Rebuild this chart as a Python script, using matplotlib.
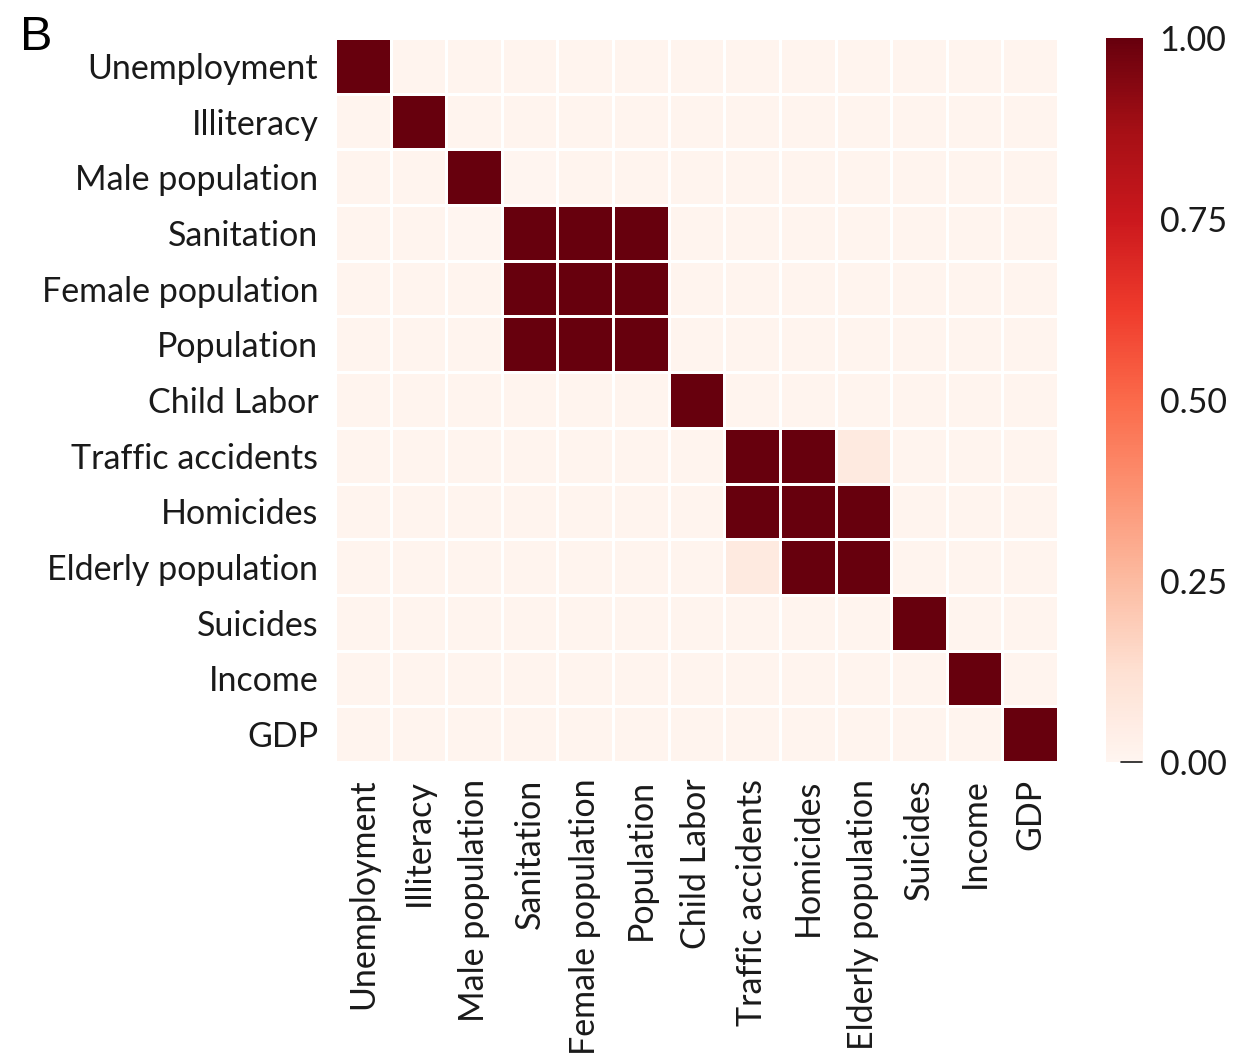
import numpy as np
import matplotlib

matplotlib.use('Agg')
import matplotlib.pyplot as plt
import seaborn as sns

labels = ['Unemployment', 'Illiteracy', 'Male population', 'Sanitation',
          'Female population', 'Population', 'Child Labor', 'Traffic accidents',
          'Homicides', 'Elderly population', 'Suicides', 'Income', 'GDP']

# correlation strengths (symmetric)
base_level = 0.01
strong_pairs = [
    ('Sanitation', 'Female population', 1.0),
    ('Sanitation', 'Population', 1.0),
    ('Female population', 'Population', 1.0),
    ('Traffic accidents', 'Homicides', 1.0),
    ('Homicides', 'Elderly population', 1.0),
    ('Traffic accidents', 'Elderly population', 0.07),
    ('Male population', 'Sanitation', 0.0),
]

n = len(labels)
corr = np.full((n, n), base_level)
np.fill_diagonal(corr, 1.0)
for a, b, v in strong_pairs:
    i, j = labels.index(a), labels.index(b)
    corr[i, j] = corr[j, i] = v

sns.set_style('white')
plt.rcParams['font.family'] = ['Lato', 'DejaVu Sans']

fig = plt.figure(figsize=(12.5, 10.64), dpi=100)
ax = fig.add_axes([335 / 1250, 1 - 762 / 1064, 723 / 1250, 724 / 1064])
cax = fig.add_axes([1106 / 1250, 1 - 762 / 1064, 37 / 1250, 724 / 1064])

sns.heatmap(corr, ax=ax, cbar_ax=cax, cmap='Reds', vmin=0, vmax=1,
            linewidths=0.8, linecolor='white',
            xticklabels=labels, yticklabels=labels)

ax.tick_params(axis='both', length=0, labelsize=24.5, colors='#1a1a1a', pad=12)
plt.setp(ax.get_xticklabels(), rotation=90)
plt.setp(ax.get_yticklabels(), rotation=0, va='center_baseline')

cax.set_yticks([0, 0.25, 0.5, 0.75, 1.0])
cax.set_yticklabels(['0.00', '0.25', '0.50', '0.75', '1.00'])
cax.tick_params(labelsize=24.5, colors='#1a1a1a', length=0, pad=12)
for s in cax.spines.values():
    s.set_visible(False)
# small dash marking the zero end of the colour bar
cax.axhline(0, xmin=0.40, xmax=0.98, color='#1a1a1a', lw=1.2, clip_on=False)

fig.text(20 / 1250, 1 - 50 / 1064, 'B', fontsize=35, family='Liberation Sans', color='black')

fig.savefig('out.png', dpi=100)
